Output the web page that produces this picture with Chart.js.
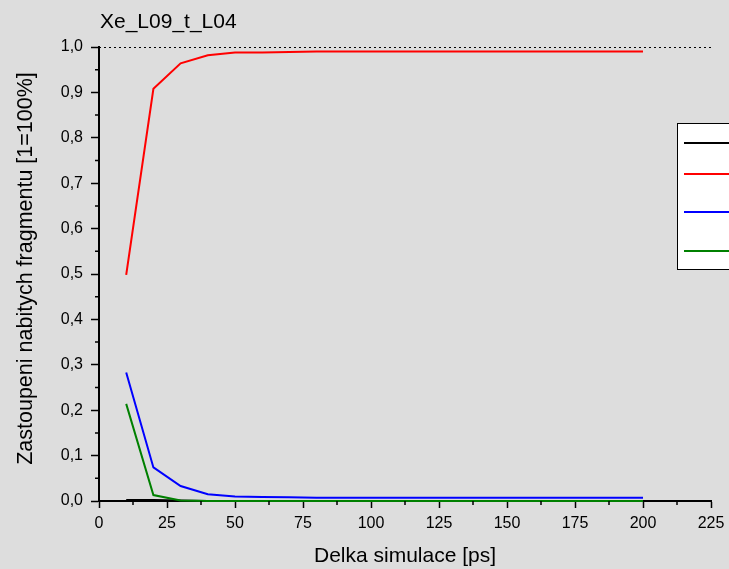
<!DOCTYPE html>
<html>
<head>
<meta charset="utf-8">
<script src="https://cdn.jsdelivr.net/npm/chart.js@4.4.0/dist/chart.umd.min.js"></script>
<style>
  html, body { margin: 0; padding: 0; background: #dddddd; }
  #wrap { width: 729px; height: 569px; }
</style>
</head>
<body>
<div id="wrap"><canvas id="chart" width="729" height="569"></canvas></div>
<script>
var simTimes = [10, 20, 30, 40, 50, 60, 70, 80, 90, 100, 110, 120, 130, 140, 150, 160, 170, 180, 190, 200];
var blackValues = [0.002, 0.002, 0.001, 0, 0, 0, 0, 0, 0, 0, 0, 0, 0, 0, 0, 0, 0, 0, 0, 0];
var redValues = [0.498, 0.908, 0.964, 0.982, 0.988, 0.988, 0.989, 0.99, 0.99, 0.99, 0.99, 0.99, 0.99, 0.99, 0.99, 0.99, 0.99, 0.99, 0.99, 0.99];
var blueValues = [0.283, 0.074, 0.033, 0.015, 0.01, 0.009, 0.008, 0.007, 0.007, 0.007, 0.007, 0.007, 0.007, 0.007, 0.007, 0.007, 0.007, 0.007, 0.007, 0.007];
var greenValues = [0.214, 0.013, 0.001, 0, 0, 0, 0, 0, 0, 0, 0, 0, 0, 0, 0, 0, 0, 0, 0, 0];
var xTickValues = [0, 25, 50, 75, 100, 125, 150, 175, 200, 225];
var yTickValues = [0, 0.1, 0.2, 0.3, 0.4, 0.5, 0.6, 0.7, 0.8, 0.9, 1.0];

var FONT = "'Liberation Sans', Arial, sans-serif";

function toPoints(values) {
  return simTimes.map(function (t, i) {
    return { x: t, y: values[i] };
  });
}

function series(values, color, order) {
  return {
    data: toPoints(values),
    borderColor: color,
    backgroundColor: color,
    borderWidth: 2,
    pointRadius: 0,
    tension: 0,
    clip: false,
    order: order
  };
}

// background, minor ticks, dotted line at 1.0, titles and the cut-off legend box
var decorPlugin = {
  id: "decor",
  beforeDraw: function (chart) {
    var ctx = chart.ctx;
    ctx.save();
    ctx.fillStyle = "#dddddd";
    ctx.fillRect(0, 0, chart.width, chart.height);
    ctx.restore();
  },
  afterDraw: function (chart) {
    var ctx = chart.ctx;
    var x = chart.scales.x;
    var y = chart.scales.y;
    var area = chart.chartArea;
    var i, p;
    ctx.save();

    ctx.strokeStyle = "#000";
    ctx.lineWidth = 1.5;
    ctx.beginPath();
    for (i = 0; i < xTickValues.length - 1; i++) {
      p = x.getPixelForValue((xTickValues[i] + xTickValues[i + 1]) / 2);
      ctx.moveTo(p, area.bottom);
      ctx.lineTo(p, area.bottom + 4);
    }
    for (i = 0; i < yTickValues.length - 1; i++) {
      p = y.getPixelForValue((yTickValues[i] + yTickValues[i + 1]) / 2);
      ctx.moveTo(area.left, p);
      ctx.lineTo(area.left - 4, p);
    }
    ctx.stroke();

    ctx.lineWidth = 1;
    ctx.setLineDash([2, 3]);
    ctx.beginPath();
    p = Math.round(y.getPixelForValue(1)) + 0.5;
    ctx.moveTo(area.left, p);
    ctx.lineTo(area.right + 2, p);
    ctx.stroke();
    ctx.setLineDash([]);

    ctx.fillStyle = "#000";
    ctx.font = "21px " + FONT;
    ctx.textBaseline = "alphabetic";
    ctx.textAlign = "left";
    ctx.fillText("Xe_L09_t_L04", 100, 28);

    ctx.save();
    ctx.translate(32, 268.5);
    ctx.rotate(-Math.PI / 2);
    ctx.font = "21.5px " + FONT;
    ctx.textAlign = "center";
    ctx.fillText("Zastoupeni nabitych fragmentu [1=100%]", 0, 0);
    ctx.restore();

    // legend (its text is cut off by the picture edge)
    ctx.fillStyle = "#ffffff";
    ctx.fillRect(677.5, 123.5, 60, 146);
    ctx.strokeStyle = "#000";
    ctx.lineWidth = 1;
    ctx.strokeRect(677.5, 123.5, 60, 146);
    var legendY = [143, 174, 212, 251];
    chart.data.datasets.forEach(function (ds, k) {
      ctx.strokeStyle = ds.borderColor;
      ctx.lineWidth = 2;
      ctx.beginPath();
      ctx.moveTo(684, legendY[k]);
      ctx.lineTo(729, legendY[k]);
      ctx.stroke();
    });
    ctx.restore();
  }
};

new Chart(document.getElementById("chart").getContext("2d"), {
  type: "line",
  data: {
    datasets: [
      series(blackValues, "#000000", 4),
      series(redValues, "#ff0000", 3),
      series(blueValues, "#0000ff", 2),
      series(greenValues, "#008000", 1)
    ]
  },
  options: {
    responsive: false,
    animation: false,
    events: [],
    layout: {
      padding: { top: 47, right: 18, left: 0, bottom: 0 }
    },
    plugins: {
      legend: { display: false },
      tooltip: { enabled: false },
      title: { display: false }
    },
    scales: {
      x: {
        type: "linear",
        min: 0,
        max: 225,
        afterFit: function (scale) {
          scale.height = 68;
          scale.paddingLeft = 0;
          scale.paddingRight = 0;
        },
        afterBuildTicks: function (scale) {
          scale.ticks = xTickValues.map(function (v) { return { value: v }; });
        },
        ticks: {
          color: "#000",
          padding: 6,
          maxRotation: 0,
          font: { family: FONT, size: 16 },
          callback: function (v) { return String(v); }
        },
        grid: {
          drawOnChartArea: false,
          drawTicks: true,
          tickLength: 7,
          tickColor: "#000",
          tickWidth: 1.5
        },
        border: { display: true, color: "#000", width: 2 },
        title: {
          display: true,
          text: "Delka simulace [ps]",
          color: "#000",
          font: { family: FONT, size: 21 },
          padding: { top: 0, bottom: 0 }
        }
      },
      y: {
        type: "linear",
        min: 0,
        max: 1,
        afterFit: function (scale) {
          scale.width = 99;
          scale.paddingTop = 0;
          scale.paddingBottom = 0;
        },
        afterBuildTicks: function (scale) {
          scale.ticks = yTickValues.map(function (v) { return { value: v }; });
        },
        ticks: {
          color: "#000",
          padding: 8,
          font: { family: FONT, size: 16 },
          callback: function (v) { return v.toFixed(1).replace(".", ","); }
        },
        grid: {
          drawOnChartArea: false,
          drawTicks: true,
          tickLength: 8,
          tickColor: "#000",
          tickWidth: 1.5
        },
        border: { display: true, color: "#000", width: 2 }
      }
    }
  },
  plugins: [decorPlugin]
});
</script>
</body>
</html>
